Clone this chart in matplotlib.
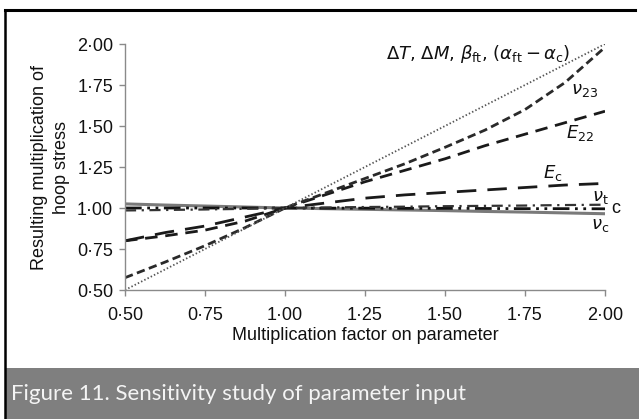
import matplotlib
matplotlib.use("Agg")
import matplotlib.pyplot as plt
from matplotlib.patches import Rectangle
from matplotlib.lines import Line2D

# ---------------- data ----------------
factor = [0.5, 0.625, 0.75, 0.875, 1.0, 1.125, 1.25, 1.375, 1.5, 1.625, 1.75, 1.875, 2.0]
dT_dM_beta_alpha = [0.5, 0.625, 0.75, 0.875, 1.0, 1.125, 1.25, 1.375, 1.5, 1.625, 1.75, 1.875, 2.0]
nu23 = [0.575, 0.67, 0.77, 0.88, 1.0, 1.09, 1.18, 1.27, 1.37, 1.475, 1.60, 1.765, 1.98]
E22 = [0.80, 0.83, 0.865, 0.92, 1.0, 1.08, 1.16, 1.23, 1.30, 1.38, 1.45, 1.52, 1.59]
Ec = [0.80, 0.85, 0.89, 0.945, 1.0, 1.03, 1.06, 1.08, 1.095, 1.11, 1.125, 1.14, 1.15]
nut = [0.985, 0.988, 0.991, 0.995, 1.0, 1.003, 1.006, 1.008, 1.011, 1.013, 1.015, 1.018, 1.02]
c_vals = [1.0, 1.0, 1.0, 1.0, 1.0, 0.999, 0.999, 0.998, 0.998, 0.997, 0.996, 0.996, 0.995]
nuc = [1.025, 1.018, 1.012, 1.006, 1.0, 0.996, 0.992, 0.988, 0.984, 0.979, 0.975, 0.970, 0.965]

xticks = [0.5, 0.75, 1.0, 1.25, 1.5, 1.75, 2.0]
yticks = [0.5, 0.75, 1.0, 1.25, 1.5, 1.75, 2.0]
tick_labels = ["0·50", "0·75", "1·00", "1·25", "1·50", "1·75", "2·00"]

W, H = 639, 419
fig = plt.figure(figsize=(W / 100, H / 100), dpi=100)
fig.patch.set_facecolor("white")

# frame lines (top + left) and caption bar
fig.add_artist(Line2D([5 / W, 635 / W], [1 - 10 / H, 1 - 10 / H], color="black", lw=2.2,
                      transform=fig.transFigure))
fig.add_artist(Line2D([5 / W, 5 / W], [0, 1 - 10 / H], color="black", lw=1.8,
                      transform=fig.transFigure))
fig.add_artist(Rectangle((6 / W, 0), 1 - 6 / W, 51 / H, transform=fig.transFigure,
                         facecolor="#7f7f7f", edgecolor="none"))
fig.text(11 / W, 25 / H, "Figure 11. Sensitivity study of parameter input", color="#f4f4f4",
         fontsize=16, family="Lato", va="center", ha="left")

ax = fig.add_axes([125 / W, 1 - 290 / H, 480 / W, 246 / H])
ax.set_xlim(0.5, 2.0)
ax.set_ylim(0.5, 2.0)
for s in ["top", "right"]:
    ax.spines[s].set_visible(False)
for s in ["left", "bottom"]:
    ax.spines[s].set_color("#8a8a8a")
    ax.spines[s].set_linewidth(1.0)
ax.tick_params(direction="out", length=4.5, width=1.0, color="#8a8a8a",
               labelsize=13, labelcolor="#111111", pad=4)
ax.tick_params(axis="x", pad=8)
ax.set_xticks(xticks)
ax.set_xticklabels(tick_labels, family="Liberation Sans")
ax.set_yticks(yticks)
ax.set_yticklabels(tick_labels, family="Liberation Sans")
ax.set_xlabel("Multiplication factor on parameter", fontsize=13, family="Liberation Sans",
              color="#111111", labelpad=2)
ax.set_ylabel("Resulting multiplication of\nhoop stress", fontsize=13, family="Liberation Sans",
              color="#111111", labelpad=5, linespacing=1.4)

ax.plot(factor, nuc, color="#7a7a7a", lw=2.2, solid_capstyle="butt")
ax.plot(factor, c_vals, color="#111111", lw=2.0, linestyle=(0, (6, 2, 1, 2, 1, 2)))
ax.plot(factor, nut, color="#333333", lw=1.6, linestyle=(0, (5, 2.5, 1, 2.5)))
ax.plot(factor, Ec, color="#1a1a1a", lw=2.0, linestyle=(0, (7, 4)))
ax.plot(factor, E22, color="#1a1a1a", lw=2.0, linestyle=(0, (4.5, 2.8)))
ax.plot(factor, nu23, color="#2a2a2a", lw=2.0, linestyle=(0, (3, 1.6)))
ax.plot(factor, dT_dM_beta_alpha, color="#555555", lw=1.3, linestyle=(0, (0.8, 1.2)))

tk = dict(fontsize=13, color="#111111", ha="center", va="center")
ax.text(1.603, 1.942, r"$\Delta T$, $\Delta M$, $\beta_{\rm ft}$, $(\alpha_{\rm ft}-\alpha_{\rm c})$", **tk)
ax.text(1.9375, 1.72, r"$\nu_{23}$", **tk)
ax.text(1.922, 1.457, r"$E_{22}$", **tk)
ax.text(1.8375, 1.213, r"$E_{\rm c}$", **tk)
ax.text(1.984, 1.067, r"$\nu_{\rm t}$", **tk)
ax.text(2.033, 1.0, "c", fontsize=13, color="#111111", ha="center", va="center", family="Liberation Sans")
ax.text(1.984, 0.896, r"$\nu_{\rm c}$", **tk)

fig.savefig("out.png", dpi=100)
